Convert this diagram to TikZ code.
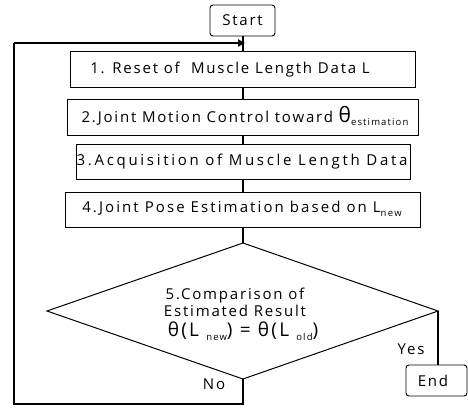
\documentclass[tikz,border=0pt]{standalone}
\usepackage{fontspec}
\setmainfont{Open Sans}[LetterSpace=12]
\newfontfamily\widefont{Open Sans}[LetterSpace=18]
\newfontfamily\midfont{Open Sans}[LetterSpace=14]
\usetikzlibrary{arrows.meta}
\newcommand{\thbig}{{\fontsize{21}{21}\selectfont θ}}
\newcommand{\subs}[1]{\raisebox{-3.5pt}{\fontsize{9.5}{10}\selectfont #1}}
\begin{document}
\begin{tikzpicture}[x=1pt,y=-1pt,
  every node/.style={font=\fontsize{15}{18}\selectfont, inner sep=0pt},
  stepbox/.style={draw, line width=1pt, rectangle},
  termbox/.style={draw, line width=0.9pt, rounded corners=3pt},
  flow/.style={line width=1.2pt}]
\useasboundingbox (0,0) rectangle (468,412);
% terminal boxes
\draw[termbox] (210,5) rectangle (275,36);
\node (start) at (242.5,20.5) {Start};
\coordinate (startb) at (243,36);
% step boxes
\draw[stepbox] (70,52) rectangle (415,87);
\node (s1) at (230,70) {1. Reset of \ Muscle Length Data L};
\draw[stepbox] (67,99) rectangle (418,135);
\node (s2) at (245,116) {2.Joint Motion Control toward \thbig\subs{estimation}};
\draw[stepbox] (76,144) rectangle (410,179);
\node (s3) at (242,161.5) {\widefont 3.Acquisition of Muscle Length Data};
\draw[stepbox] (65,192) rectangle (420,227);
\node (s4) at (242,209) {\midfont 4.Joint Pose Estimation based on L\subs{new}};
% diamond
\draw[line width=1pt] (243,243) -- (438,311) -- (243,379) -- (47,311) -- cycle;
\node (d1) at (235,296) {5.Comparison of};
\node (d2) at (235,311) {Estimated Result};
\node (d3) at (243,331) {\fontsize{19}{19}\selectfont θ(L \subs{new}) = θ(L \subs{old})};
% end box
\draw[termbox] (406,365) rectangle (467,396);
\node (end) at (433,380.5) {End};
% connectors
\coordinate (b1t) at (243,52);
\coordinate (b1b) at (243,87);
\coordinate (b2t) at (243,99);
\coordinate (b2b) at (243,135);
\coordinate (b3t) at (243,144);
\coordinate (b3b) at (243,179);
\coordinate (b4t) at (243,192);
\coordinate (b4b) at (243,227);
\coordinate (dt) at (243,243);
\coordinate (dr) at (438,311);
\coordinate (db) at (243,379);
\coordinate (et) at (438,365);
\coordinate (lp) at (14,404);
\coordinate (tp) at (14,43);
\coordinate (ap) at (245,43);
\draw[flow] (startb) -- (b1t);
\draw[flow] (b1b) -- (b2t);
\draw[flow] (b2b) -- (b3t);
\draw[flow] (b3b) -- (b4t);
\draw[flow] (b4b) -- (dt);
\draw[flow] (dr) -- (et);
\draw[line width=1.5pt] (db) -- (243,404) -- (lp) -- (tp);
\draw[line width=2.2pt,-{Triangle[length=7pt,width=7pt]}] (tp) -- (ap);
\node (yes) at (411,349) {Yes};
\node (no) at (214,384) {No};
\end{tikzpicture}
\end{document}
